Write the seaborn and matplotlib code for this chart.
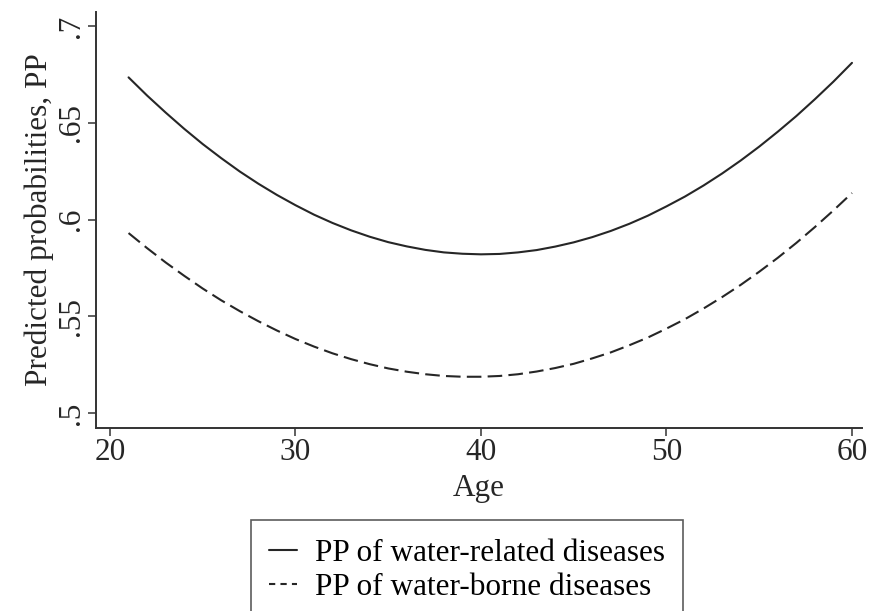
import numpy as np
import pandas as pd
import matplotlib
matplotlib.use("Agg")
import matplotlib.pyplot as plt
import seaborn as sns
from matplotlib.lines import Line2D

ages = list(range(21, 61))
pp_related = [0.6735, 0.6641, 0.6553, 0.6469, 0.6390, 0.6317, 0.6248, 0.6185, 0.6127, 0.6074,
              0.6025, 0.5982, 0.5944, 0.5911, 0.5883, 0.5861, 0.5843, 0.5830, 0.5823, 0.5820,
              0.5822, 0.5830, 0.5842, 0.5860, 0.5882, 0.5909, 0.5941, 0.5978, 0.6020, 0.6068,
              0.6119, 0.6176, 0.6238, 0.6305, 0.6377, 0.6454, 0.6535, 0.6622, 0.6713, 0.6810]
pp_borne = [0.5930, 0.5852, 0.5778, 0.5709, 0.5643, 0.5582, 0.5526, 0.5474, 0.5426, 0.5382,
            0.5343, 0.5308, 0.5278, 0.5252, 0.5230, 0.5213, 0.5200, 0.5191, 0.5187, 0.5187,
            0.5191, 0.5200, 0.5214, 0.5232, 0.5254, 0.5282, 0.5313, 0.5350, 0.5390, 0.5436,
            0.5485, 0.5540, 0.5599, 0.5662, 0.5730, 0.5802, 0.5879, 0.5961, 0.6047, 0.6137]
series_names = ["PP of water-related diseases", "PP of water-borne diseases"]
x_ticks = [20, 30, 40, 50, 60]
y_ticks = [0.5, 0.55, 0.6, 0.65, 0.7]
y_tick_labels = [".5", ".55", ".6", ".65", ".7"]

df = pd.DataFrame({
    "Age": ages * 2,
    "PP": pp_related + pp_borne,
    "series": [series_names[0]] * len(ages) + [series_names[1]] * len(ages),
})

sns.set_theme(style="ticks")
plt.rcParams["font.family"] = ["Liberation Serif", "DejaVu Serif"]
plt.rcParams["text.color"] = "black"

FS = 22.5
LC = "#262626"
LW = 1.5
fig = plt.figure(figsize=(8.71, 6.11), dpi=100)
ax = fig.add_axes([96 / 871, 183 / 611, (862 - 96) / 871, (428 - 12) / 611])

dash_map = {series_names[0]: "", series_names[1]: (7, 3)}
sns.lineplot(data=df, x="Age", y="PP", style="series", dashes=dash_map,
             color=LC, linewidth=LW, ax=ax, legend=False)

ax.set_xlim(19.245, 60.54)
ax.set_ylim(0.4922, 0.7073)
ax.set_xticks(x_ticks)
ax.set_xticklabels([str(t) for t in x_ticks], fontsize=FS)
ax.set_yticks(y_ticks)
ax.set_yticklabels(y_tick_labels, fontsize=FS, rotation=90, va="center")
ax.tick_params(axis="both", direction="out", length=6, width=1.1, color="#333333", pad=1)
for s in ["top", "right"]:
    ax.spines[s].set_visible(False)
for s in ["left", "bottom"]:
    ax.spines[s].set_linewidth(1.4)
    ax.spines[s].set_color("#333333")
ax.set_xlabel("Age", fontsize=FS, labelpad=5)
ax.set_ylabel("Predicted probabilities, PP", fontsize=FS, labelpad=2)

handles = [Line2D([0], [0], color=LC, lw=LW),
           Line2D([0], [0], color=LC, lw=LW, dashes=(3, 2.5))]
leg = fig.legend(handles, series_names, loc="upper center",
                 bbox_to_anchor=(467 / 871, (611 - 520) / 611), fontsize=FS,
                 frameon=True, fancybox=False, handlelength=0.9, handletextpad=0.55,
                 borderpad=0.6, labelspacing=0.18, borderaxespad=0)
leg.get_frame().set_edgecolor("#333333")
leg.get_frame().set_linewidth(1.2)

fig.savefig("out.png", dpi=100)
